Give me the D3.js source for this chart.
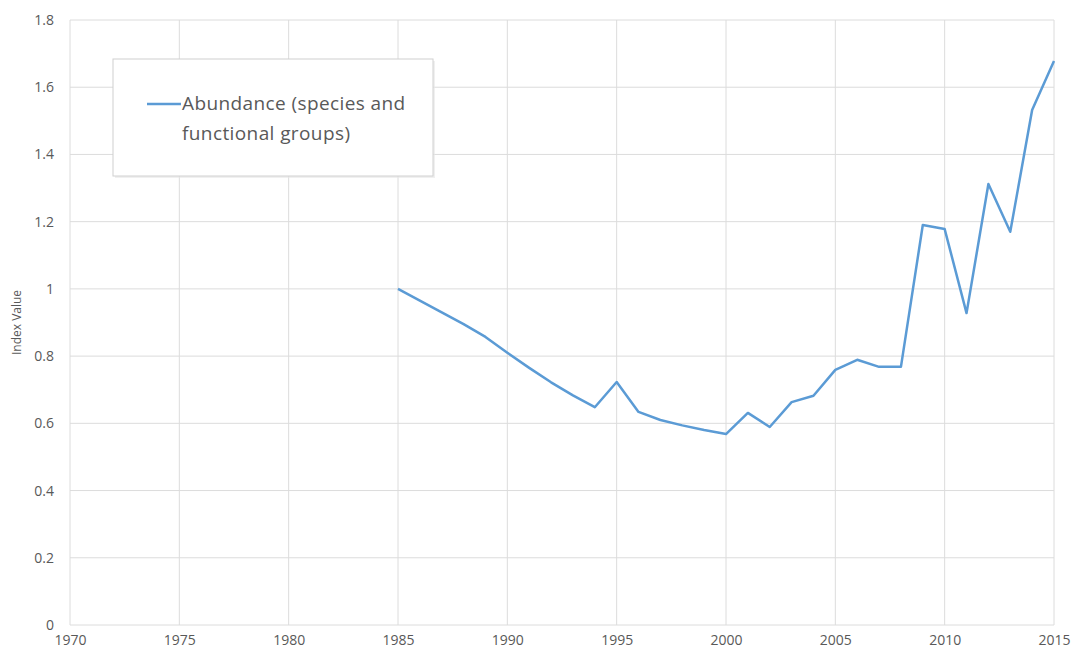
<!DOCTYPE html>
<html>
<head>
<meta charset="utf-8">
<script src="https://cdn.jsdelivr.net/npm/d3@7"></script>
<style>
  body { margin: 0; background: #fff; }
  text { font-family: "Open Sans", "Liberation Sans", sans-serif; fill: #595959; }
</style>
</head>
<body>
<main></main>
<script>
// data
const years = [1985, 1986, 1987, 1988, 1989, 1990, 1991, 1992, 1993, 1994,
  1995, 1996, 1997, 1998, 1999, 2000, 2001, 2002, 2003, 2004,
  2005, 2006, 2007, 2008, 2009, 2010, 2011, 2012, 2013, 2014, 2015];
const abundance = [1.0, 0.965, 0.93, 0.895, 0.857, 0.81, 0.765, 0.722, 0.683, 0.648,
  0.723, 0.634, 0.61, 0.594, 0.58, 0.568, 0.631, 0.589, 0.663, 0.682,
  0.759, 0.789, 0.768, 0.768, 1.19, 1.178, 0.928, 1.312, 1.17, 1.532, 1.678];
const xTicks = [1970, 1975, 1980, 1985, 1990, 1995, 2000, 2005, 2010, 2015];
const yTicks = [0, 0.2, 0.4, 0.6, 0.8, 1, 1.2, 1.4, 1.6, 1.8];
const seriesName = ["Abundance (species and", "functional groups)"];

const W = 1077, H = 657;
const margin = { top: 20, right: 23, bottom: 32, left: 70 };

const svg = d3.select("main").append("svg")
  .attr("width", W)
  .attr("height", H);

const x = d3.scaleLinear().domain([1970, 2015]).range([margin.left, W - margin.right]);
const y = d3.scaleLinear().domain([0, 1.8]).range([H - margin.bottom, margin.top]);

// gridlines
svg.append("g").selectAll("line")
  .data(yTicks).enter().append("line")
  .attr("x1", x(1970)).attr("x2", x(2015))
  .attr("y1", d => y(d)).attr("y2", d => y(d))
  .attr("stroke", "#dcdcdc").attr("stroke-width", 1);

svg.append("g").selectAll("line")
  .data(xTicks).enter().append("line")
  .attr("x1", d => x(d)).attr("x2", d => x(d))
  .attr("y1", y(0)).attr("y2", y(1.8))
  .attr("stroke", "#dcdcdc").attr("stroke-width", 1);

// axes, tick labels only
const yAxis = svg.append("g")
  .attr("transform", `translate(${margin.left},0)`)
  .call(d3.axisLeft(y).tickValues(yTicks).tickSize(0).tickPadding(16).tickFormat(d => d3.format("")(d)));
yAxis.select(".domain").remove();
yAxis.selectAll("text").style("font-size", "14px").style("fill", "#595959")
  .style("font-family", "'Open Sans', sans-serif");

const xAxis = svg.append("g")
  .attr("transform", `translate(0,${y(0)})`)
  .call(d3.axisBottom(x).tickValues(xTicks).tickSize(0).tickPadding(10).tickFormat(d3.format("d")));
xAxis.select(".domain").remove();
xAxis.selectAll("text").style("font-size", "14px").style("fill", "#595959")
  .style("font-family", "'Open Sans', sans-serif");

// y axis title
svg.append("text")
  .attr("transform", `translate(21,${(y(0) + y(1.8)) / 2}) rotate(-90)`)
  .attr("text-anchor", "middle")
  .style("font-size", "12px")
  .text("Index Value");

// the series
const line = d3.line()
  .x((d, i) => x(years[i]))
  .y(d => y(d));

svg.append("path")
  .datum(abundance)
  .attr("d", line)
  .attr("fill", "none")
  .attr("stroke", "#5b9bd5")
  .attr("stroke-width", 2.5)
  .attr("stroke-linejoin", "round");

// legend box
const legend = svg.append("g");
legend.append("rect")
  .attr("x", 115).attr("y", 61)
  .attr("width", 320).attr("height", 117)
  .attr("fill", "#e6e6e6").attr("opacity", 0.6);
legend.append("rect")
  .attr("x", 113).attr("y", 59)
  .attr("width", 320).attr("height", 117)
  .attr("fill", "#fff").attr("stroke", "#d0d0d0");
legend.append("line")
  .attr("x1", 147).attr("x2", 181)
  .attr("y1", 104).attr("y2", 104)
  .attr("stroke", "#5b9bd5").attr("stroke-width", 2.5);
legend.selectAll("text.leg")
  .data(seriesName).enter().append("text")
  .attr("class", "leg")
  .attr("x", 182)
  .attr("y", (d, i) => 110 + i * 30)
  .style("font-size", "19px")
  .style("letter-spacing", "0.4px")
  .text(d => d);
</script>
</body>
</html>
